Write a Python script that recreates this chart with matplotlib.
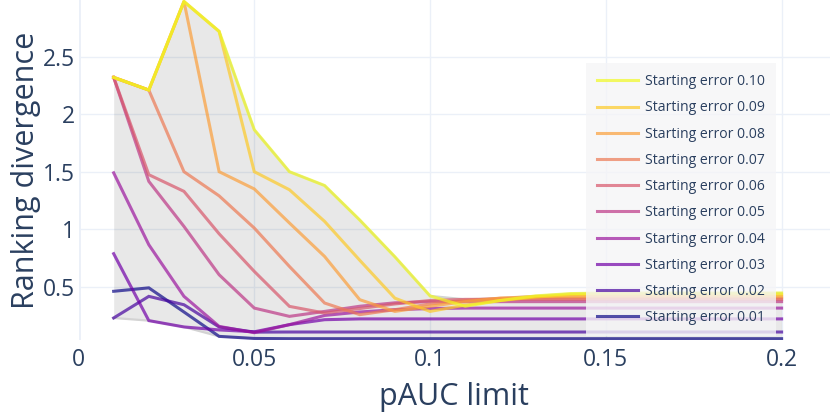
import numpy as np
import matplotlib
matplotlib.use("Agg")
import matplotlib.pyplot as plt

# ---- data ----
pauc_limits = [0.01, 0.02, 0.03, 0.04, 0.05, 0.06, 0.07, 0.08, 0.09, 0.10,
               0.11, 0.12, 0.13, 0.14, 0.15, 0.16, 0.17, 0.18, 0.19, 0.20]
starting_errors = ["0.01", "0.02", "0.03", "0.04", "0.05",
                   "0.06", "0.07", "0.08", "0.09", "0.10"]

err_001 = [0.46, 0.49, 0.28, 0.068, 0.050, 0.048, 0.048, 0.048, 0.048, 0.048,
           0.048, 0.048, 0.048, 0.048, 0.048, 0.048, 0.048, 0.048, 0.048, 0.048]
err_002 = [0.228, 0.416, 0.343, 0.15, 0.105, 0.106, 0.106, 0.106, 0.106, 0.106,
           0.106, 0.106, 0.106, 0.106, 0.106, 0.106, 0.106, 0.106, 0.106, 0.106]
err_003 = [0.787, 0.205, 0.15, 0.124, 0.108, 0.17, 0.213, 0.22, 0.22, 0.22,
           0.22, 0.22, 0.22, 0.22, 0.22, 0.22, 0.22, 0.22, 0.22, 0.22]
err_004 = [1.49, 0.865, 0.416, 0.155, 0.10, 0.17, 0.25, 0.28, 0.30, 0.31,
           0.314, 0.314, 0.314, 0.314, 0.314, 0.314, 0.314, 0.314, 0.314, 0.314]
err_005 = [2.32, 1.416, 1.024, 0.604, 0.314, 0.242, 0.285, 0.33, 0.36, 0.37,
           0.37, 0.37, 0.37, 0.37, 0.37, 0.37, 0.37, 0.37, 0.37, 0.37]
err_006 = [2.32, 1.474, 1.329, 0.96, 0.633, 0.329, 0.271, 0.31, 0.35, 0.38,
           0.39, 0.39, 0.39, 0.39, 0.39, 0.39, 0.39, 0.39, 0.39, 0.39]
err_007 = [2.32, 2.21, 1.50, 1.29, 1.01, 0.676, 0.358, 0.257, 0.30, 0.35,
           0.38, 0.40, 0.40, 0.40, 0.40, 0.40, 0.40, 0.40, 0.40, 0.40]
err_008 = [2.32, 2.21, 2.98, 1.50, 1.35, 1.054, 0.763, 0.387, 0.285, 0.33,
           0.37, 0.40, 0.415, 0.415, 0.415, 0.415, 0.415, 0.415, 0.415, 0.415]
err_009 = [2.32, 2.21, 2.98, 2.72, 1.50, 1.343, 1.068, 0.73, 0.40, 0.285,
           0.34, 0.38, 0.41, 0.43, 0.43, 0.43, 0.43, 0.43, 0.43, 0.43]
err_010 = [2.32, 2.21, 2.98, 2.72, 1.865, 1.50, 1.38, 1.08, 0.76, 0.42,
           0.33, 0.38, 0.42, 0.44, 0.445, 0.445, 0.445, 0.445, 0.445, 0.445]

series = [err_001, err_002, err_003, err_004, err_005,
          err_006, err_007, err_008, err_009, err_010]

x_ticks = [0, 0.05, 0.1, 0.15, 0.2]
x_tick_labels = ["0", "0.05", "0.1", "0.15", "0.2"]
y_ticks = [0.5, 1, 1.5, 2, 2.5]
y_tick_labels = ["0.5", "1", "1.5", "2", "2.5"]

# ---- figure ----
W, H = 830, 415
fig = plt.figure(figsize=(W / 100, H / 100), dpi=100)
left_px, right_px, top_px, bottom_px = 78.5, 830, 0, 340
ax = fig.add_axes([left_px / W, 1 - bottom_px / H,
                   (right_px - left_px) / W, (bottom_px - top_px) / H])

font = "Open Sans"
text_color = "#2a3f5f"
grid_color = "#EBF0F8"

ax.set_facecolor("white")
for s in ax.spines.values():
    s.set_visible(False)

ax.set_xlim(0, 0.2 * (right_px - left_px) / (781.6 - left_px))
ax.set_ylim(0.0365, 2.993)

ax.set_xticks(x_ticks)
ax.set_xticklabels(x_tick_labels)
ax.set_yticks(y_ticks)
ax.set_yticklabels(y_tick_labels)
ax.tick_params(length=0, labelsize=16.5, labelcolor=text_color, pad=2.5)
ax.tick_params(axis="x", pad=6)
for lab in ax.get_xticklabels() + ax.get_yticklabels():
    lab.set_fontfamily(font)
ax.grid(True, color=grid_color, linewidth=1, zorder=0)
ax.set_axisbelow(True)
ax.axvline(0, color=grid_color, linewidth=2, zorder=0.5)

arr = np.array(series)
upper = arr.max(axis=0)
lower = arr.min(axis=0)
ax.fill_between(pauc_limits, lower, upper, color=(0, 0, 0, 0.09),
                linewidth=0, zorder=1)
ax.plot(pauc_limits, upper, color="#d3d3d3", linewidth=1.6, zorder=1.5)
ax.plot(pauc_limits, lower, color="#d3d3d3", linewidth=1.6, zorder=1.5)

cmap = plt.get_cmap("plasma")
handles = []
for i, (vals, name) in enumerate(zip(series, starting_errors)):
    c = cmap(i / (len(series) - 1))
    h, = ax.plot(pauc_limits, vals, color=c, alpha=0.7, linewidth=2.2,
                 zorder=2 + i, label=f"Starting error {name}",
                 solid_joinstyle="miter")
    handles.append(h)

ax.set_xlabel("pAUC limit", fontsize=22, color=text_color, family=font,
              va="center")
ax.xaxis.set_label_coords(0.5, -(397 - bottom_px) / (bottom_px - top_px))
ax.set_ylabel("Ranking divergence", fontsize=22, color=text_color,
              family=font, va="center")
ax.yaxis.set_label_coords(-(left_px - 26) / (right_px - left_px), 0.5)

leg = ax.legend(handles=handles[::-1], loc="upper left",
                bbox_to_anchor=(586 / W, 1 - 63 / H),
                bbox_transform=fig.transFigure, borderaxespad=0,
                prop={"family": font, "size": 10.1},
                labelcolor=text_color, frameon=True, fancybox=False,
                handlelength=2.9, handletextpad=0.5, borderpad=0.8,
                labelspacing=0.80)
frame = leg.get_frame()
frame.set_facecolor((0.96, 0.96, 0.97, 0.6))
frame.set_edgecolor("none")
leg.set_zorder(20)

fig.savefig("out.png", dpi=100)
